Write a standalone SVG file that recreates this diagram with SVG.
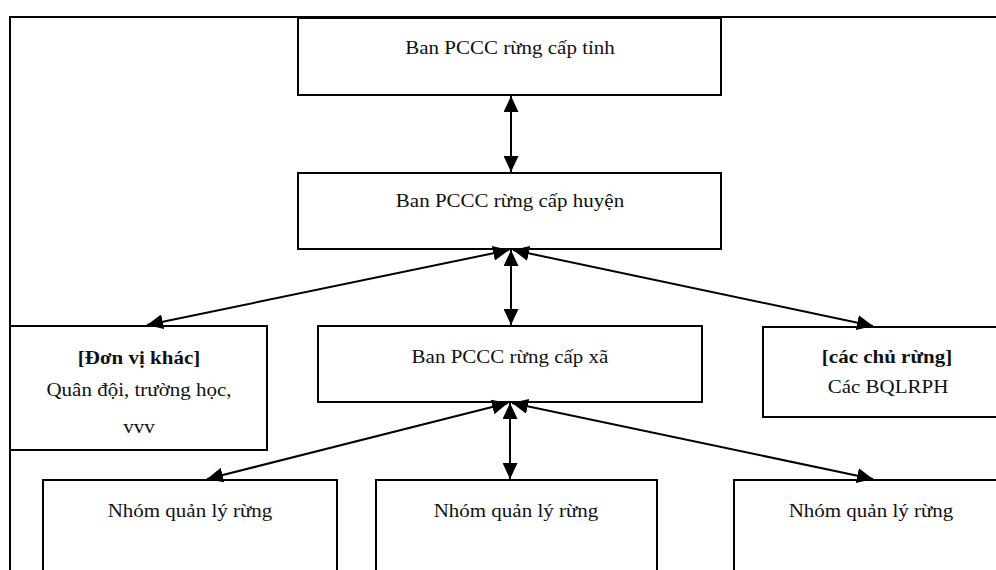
<svg xmlns="http://www.w3.org/2000/svg" width="996" height="570" viewBox="0 0 996 570">
  <style>
    .box { fill: #ffffff; stroke: #000000; stroke-width: 2; }
    .frame { fill: none; stroke: #000000; stroke-width: 2; }
    .lbl { font-family: "Liberation Serif", "Times New Roman", serif; font-size: 21px; fill: #111111; text-anchor: middle; }
    .b { font-weight: bold; }
    .conn line { stroke: #000000; stroke-width: 2; marker-start: url(#head); marker-end: url(#head); }
  </style>
  <defs>
    <marker id="head" markerUnits="userSpaceOnUse" markerWidth="16" markerHeight="15" refX="16" refY="7.5" orient="auto-start-reverse">
      <path d="M0,0 L16,7.5 L0,15 z" fill="#000000"/>
    </marker>
  </defs>

  <rect width="996" height="570" fill="#ffffff"/>

  <!-- outer page frame -->
  <path class="frame" d="M10,570 V17 H996"/>

  <g id="tinh">
    <rect class="box" x="298" y="18" width="423" height="77"/>
    <text class="lbl" transform="translate(510,54) scale(1,0.9)">Ban PCCC rừng cấp tỉnh</text>
  </g>

  <g id="huyen">
    <rect class="box" x="298" y="173" width="423" height="76"/>
    <text class="lbl" transform="translate(510,207) scale(1,0.9)">Ban PCCC rừng cấp huyện</text>
  </g>

  <g id="don-vi-khac">
    <rect class="box" x="10" y="326" width="257" height="124"/>
    <text class="lbl b" transform="translate(139,364) scale(1,0.9)">[Đơn vị khác]</text>
    <text class="lbl" transform="translate(139,396) scale(1,0.9)">Quân đội, trường học,</text>
    <text class="lbl" transform="translate(139,433) scale(1,0.9)">vvv</text>
  </g>

  <g id="xa">
    <rect class="box" x="318" y="326" width="384" height="76"/>
    <text class="lbl" transform="translate(510,363) scale(1,0.9)">Ban PCCC rừng cấp xã</text>
  </g>

  <g id="chu-rung">
    <rect class="box" x="763" y="327" width="250" height="90"/>
    <text class="lbl b" transform="translate(887,363) scale(1,0.9)">[các chủ rừng]</text>
    <text class="lbl" transform="translate(888,393) scale(1,0.9)">Các BQLRPH</text>
  </g>

  <g id="nhom-1">
    <rect class="box" x="43" y="480" width="294" height="100"/>
    <text class="lbl" transform="translate(190,517) scale(1,0.9)">Nhóm quản lý rừng</text>
  </g>

  <g id="nhom-2">
    <rect class="box" x="376" y="480" width="281" height="100"/>
    <text class="lbl" transform="translate(516,517) scale(1,0.9)">Nhóm quản lý rừng</text>
  </g>

  <g id="nhom-3">
    <rect class="box" x="734" y="480" width="280" height="100"/>
    <text class="lbl" transform="translate(871,517) scale(1,0.9)">Nhóm quản lý rừng</text>
  </g>

  <!-- two-way connectors -->
  <g id="connectors" class="conn">
    <line x1="511" y1="96" x2="511" y2="172"/>
    <line x1="511" y1="250" x2="511" y2="325"/>
    <line x1="509" y1="250" x2="147" y2="325"/>
    <line x1="513" y1="250" x2="873" y2="326"/>
    <line x1="510" y1="403" x2="510" y2="479"/>
    <line x1="508" y1="403" x2="207" y2="479"/>
    <line x1="512" y1="403" x2="873" y2="479"/>
  </g>
</svg>
